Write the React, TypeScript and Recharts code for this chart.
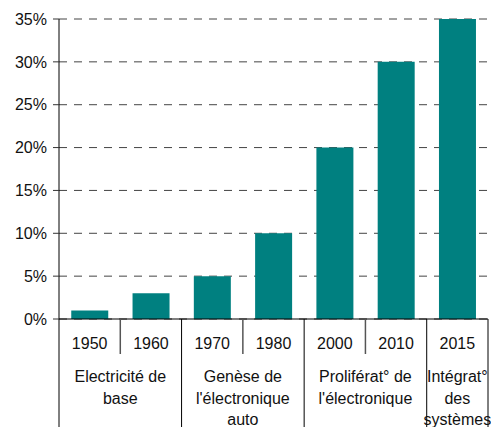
import React from "react";
import { BarChart, Bar, XAxis, YAxis, CartesianGrid } from "recharts";

const years = ["1950", "1960", "1970", "1980", "2000", "2010", "2015"];
const shares = [1, 3, 5, 10, 20, 30, 35];
const groupLabels = [
  ["Electricité de", "base"],
  ["Genèse de", "l'électronique", "auto"],
  ["Proliférat° de", "l'électronique"],
  ["Intégrat°", "des", "systèmes"],
];
const groupSpans = [2, 2, 2, 1];
const yTicks = [0, 5, 10, 15, 20, 25, 30, 35];

const W = 491;
const H = 427;
const M_TOP = 19;
const M_RIGHT = 3;
const Y_W = 59;
const X_H = 108;
const PLOT_W = W - Y_W - M_RIGHT;
const PLOT_BOTTOM = H - X_H;
const FONT = "'Liberation Sans', Arial, sans-serif";

const data = years.map((year, i) => ({ year, value: shares[i] }));

// first and last category index of each group
const groupStarts = groupSpans.map((_, g) =>
  groupSpans.slice(0, g).reduce((a, b) => a + b, 0)
);
const groupEnds = groupStarts.map((s, g) => s + groupSpans[g] - 1);

const YearTick = (props: any) => {
  const { x, index } = props;
  const band = PLOT_W / years.length;
  const g = groupStarts.indexOf(index);
  const isGroupEnd = groupEnds.includes(index);
  const cx = g >= 0 ? x + ((groupSpans[g] - 1) * band) / 2 : x;
  return (
    <g>
      <text
        x={x}
        y={PLOT_BOTTOM + 30}
        textAnchor="middle"
        fontSize={16}
        fontFamily={FONT}
        fill="#111"
      >
        {years[index]}
      </text>
      {index === 0 && (
        <line x1={x - band / 2} x2={x - band / 2} y1={PLOT_BOTTOM} y2={H} stroke="#000" />
      )}
      <line
        x1={x + band / 2}
        x2={x + band / 2}
        y1={PLOT_BOTTOM}
        y2={isGroupEnd ? H : PLOT_BOTTOM + 35}
        stroke={isGroupEnd ? "#000" : "#555"}
        strokeWidth={isGroupEnd ? 1 : 1.5}
      />
      {g >= 0 && (
        <text
          x={cx}
          y={PLOT_BOTTOM + 63}
          textAnchor="middle"
          fontSize={16}
          fontFamily={FONT}
          fill="#111"
        >
          {groupLabels[g].map((line, k) => (
            <tspan key={k} x={cx} dy={k === 0 ? 0 : 21.5}>
              {line}
            </tspan>
          ))}
        </text>
      )}
    </g>
  );
};

export default function App() {
  return (
    <div style={{ position: "absolute", left: 0, top: 0, background: "#fff" }}>
      <BarChart
        width={W}
        height={H}
        data={data}
        margin={{ top: M_TOP, right: M_RIGHT, left: 0, bottom: 0 }}
        barCategoryGap="20%"
      >
        <CartesianGrid vertical={false} stroke="#444" strokeDasharray="8 7" />
        <XAxis
          dataKey="year"
          height={X_H}
          interval={0}
          axisLine={{ stroke: "#000" }}
          tickLine={false}
          tick={<YearTick />}
        />
        <YAxis
          width={Y_W}
          domain={[0, 35]}
          ticks={yTicks}
          tickFormatter={(v) => `${v}%`}
          axisLine={{ stroke: "#000" }}
          tickLine={{ stroke: "#333" }}
          tickSize={6}
          tickMargin={6}
          tick={{ fontSize: 16, fontFamily: FONT, fill: "#111" }}
        />
        <Bar dataKey="value" fill="#008080" isAnimationActive={false} />
      </BarChart>
    </div>
  );
}
